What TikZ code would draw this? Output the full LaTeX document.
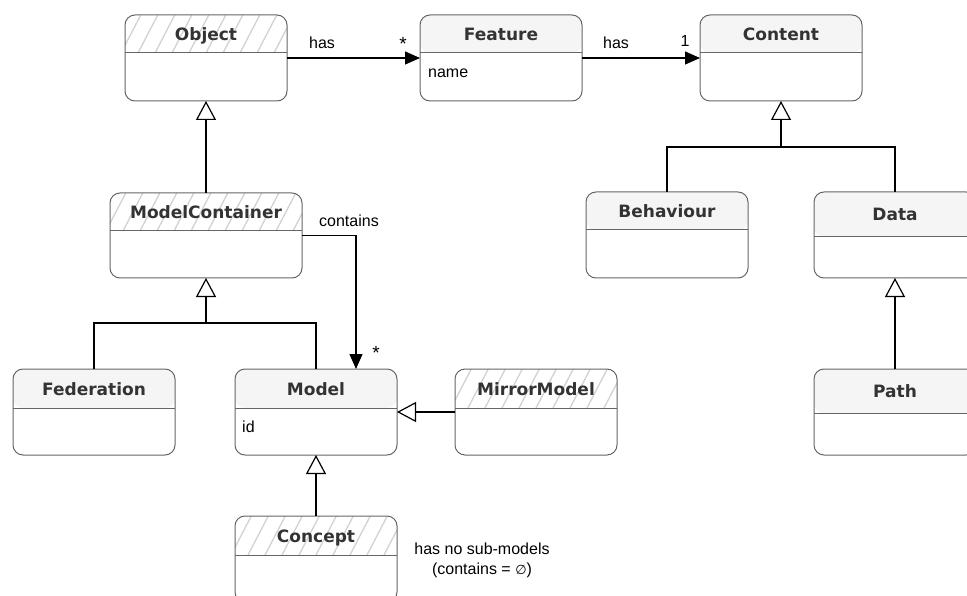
\documentclass[tikz,border=0pt]{standalone}
\usepackage{fontspec}
\setmainfont{Liberation Sans}
\newfontfamily\tfont{DejaVu Sans}
\newfontfamily\symfont{DejaVu Sans}
\usetikzlibrary{arrows.meta}
\definecolor{linec}{HTML}{666666}
\definecolor{hdrc}{HTML}{F5F5F5}
\definecolor{titlec}{HTML}{333333}
\definecolor{hatchc}{HTML}{D2D2D2}
\tikzset{
  classbox/.style={draw=linec, line width=1pt, fill=white, rounded corners=10pt,
    minimum width=162pt, minimum height=86pt, anchor=north west, inner sep=0pt, outer sep=0pt},
  hdr/.style={path picture={
    \fill[hdrc] (path picture bounding box.north west) rectangle ([yshift=-#1pt]path picture bounding box.north east);
    \draw[linec, line width=1pt] ([yshift=-#1pt]path picture bounding box.north west) -- ([yshift=-#1pt]path picture bounding box.north east);
  }},
  hhdr/.style={path picture={
    \foreach \k in {-3,...,13}{
      \draw[hatchc, line width=1.3pt] ([xshift=\k*17pt-4pt, yshift=-#1pt]path picture bounding box.north west) -- ++({0.52*#1 pt},{#1 pt});
    }
    \draw[linec, line width=1pt] ([yshift=-#1pt]path picture bounding box.north west) -- ([yshift=-#1pt]path picture bounding box.north east);
  }},
  titlet/.style={font=\tfont\bfseries\fontsize{17}{20}\selectfont, text=titlec, inner sep=0pt, anchor=base},
  lbl/.style={font=\fontsize{16}{19}\selectfont, text=black, inner sep=0pt, anchor=base},
  starl/.style={font=\fontsize{19}{21}\selectfont, text=black, inner sep=0pt, anchor=base},
  attr/.style={font=\fontsize{16}{19}\selectfont, text=black, inner sep=0pt, anchor=base west},
  conn/.style={draw=black, line width=1.2pt},
  assoc/.style={conn, -{Triangle[length=15pt, width=13pt]}},
  gen/.style={conn, -{Triangle[open, length=19pt, width=20pt, fill=white]}}
}
\begin{document}
\begin{tikzpicture}[x=1pt, y=-1pt]
\useasboundingbox (0,0) rectangle (967,596);

% classes
\node[classbox, hhdr=38] (obj) at (125,15) {};
\node[classbox, hdr=38] (feat) at (420,15) {};
\node[classbox, hdr=38] (content) at (700,15) {};
\node[classbox, hhdr=38, minimum width=192pt, minimum height=85pt] (mc) at (110,193) {};
\node[classbox, hdr=38] (beh) at (586,192) {};
\node[classbox, hdr=45] (data) at (814,192) {};
\node[classbox, hdr=39] (fed) at (13,369) {};
\node[classbox, hdr=39] (model) at (235,369) {};
\node[classbox, hhdr=39] (mirror) at (455,369) {};
\node[classbox, hdr=44] (path) at (814,369) {};
\node[classbox, hhdr=39] (concept) at (235,516) {};

% titles
\node[titlet] (objT) at ([yshift=-26pt]obj.north) {Object};
\node[titlet] (featT) at ([yshift=-26pt]feat.north) {Feature};
\node[titlet] (contentT) at ([yshift=-26pt]content.north) {Content};
\node[titlet] (mcT) at ([yshift=-26pt]mc.north) {ModelContainer};
\node[titlet] (behT) at ([yshift=-26pt]beh.north) {Behaviour};
\node[titlet] (dataT) at ([yshift=-28.5pt]data.north) {Data};
\node[titlet] (fedT) at ([yshift=-26.5pt]fed.north) {Federation};
\node[titlet] (modelT) at ([yshift=-26.5pt]model.north) {Model};
\node[titlet] (mirrorT) at ([yshift=-26.5pt]mirror.north) {MirrorModel};
\node[titlet] (pathT) at ([yshift=-28pt]path.north) {Path};
\node[titlet] (conceptT) at ([yshift=-26.5pt]concept.north) {Concept};

% attributes
\node[attr] (featA) at (428,78) {name};
\node[attr] (modelA) at (242,432) {id};

% junctions
\coordinate (j1) at (206,323);
\coordinate (j2) at (781,147);

% connectors
\draw[assoc] (obj.east) -- (feat.west);
\draw[assoc] (feat.east) -- (content.west);
\draw[gen] (mc.north) -- (obj.south);
\draw[conn] (fed.north) |- (j1);
\draw[conn] (model.north) |- (j1);
\draw[gen] (j1) -- (mc.south);
\draw[assoc] (mc.east) -| ([xshift=40pt]model.north);
\draw[gen] (mirror.west) -- (model.east);
\draw[gen] (concept.north) -- (model.south);
\draw[conn] (beh.north) |- (j2);
\draw[conn] (data.north) |- (j2);
\draw[gen] (j2) -- (content.south);
\draw[gen] (path.north) -- (data.south);

% labels
\node[lbl] (has1) at (322,49) {has};
\node[starl] (star1) at (403,51) {*};
\node[lbl] (has2) at (616,49) {has};
\node[lbl] (one) at (685,46.5) {1};
\node[lbl] (cont) at (349,227) {contains};
\node[starl] (star2) at (376,359) {*};
\node[lbl] (note1) at (482,554) {has no sub-models};
\node[lbl] (note2) at (482,574) {(contains = {\symfont\fontsize{13}{16}\selectfont ∅})};
\end{tikzpicture}
\end{document}
